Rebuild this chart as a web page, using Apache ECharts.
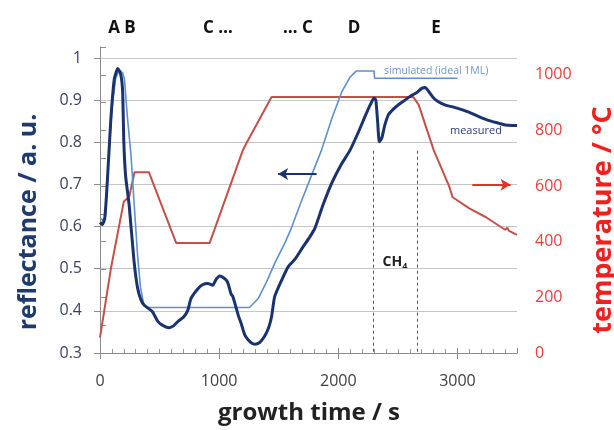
<!DOCTYPE html>
<html>
<head>
<meta charset="utf-8">
<script src="https://cdn.jsdelivr.net/npm/echarts@6/dist/echarts.min.js"></script>
<style>
    html, body { margin: 0; padding: 0; background: #fff; }
    #chart { width: 614px; height: 430px; }
</style>
</head>
<body>
<div id="chart"></div>
<script>
// measured reflectance (left axis)
const measuredTime = [0, 20, 40, 60, 90, 120, 150, 175, 190, 200, 215, 245, 285, 315, 345, 370, 440, 485, 530, 580,
    620, 655, 700, 735, 765, 820, 860, 905, 945, 975, 1005, 1040, 1070, 1100, 1115, 1160, 1185, 1215, 1245, 1275,
    1300, 1340, 1380, 1415, 1440, 1466, 1520, 1580, 1635, 1700, 1760, 1805, 1870, 1945, 2020, 2100, 2170, 2230, 2270, 2300,
    2315, 2330, 2345, 2365, 2390, 2420, 2460, 2505, 2560, 2620, 2660, 2700, 2730, 2760, 2800, 2840, 2900, 2960, 3010, 3090,
    3180, 3260, 3350, 3400, 3460, 3500]
const measuredRefl = [0.61, 0.605, 0.62, 0.70, 0.85, 0.95, 0.975, 0.96, 0.92, 0.80, 0.72, 0.65, 0.52, 0.455, 0.425, 0.414, 0.398, 0.375, 0.365, 0.36,
    0.365, 0.375, 0.385, 0.40, 0.43, 0.452, 0.462, 0.465, 0.461, 0.475, 0.483, 0.478, 0.469, 0.44, 0.434, 0.39, 0.37, 0.343, 0.331, 0.323,
    0.321, 0.325, 0.339, 0.36, 0.386, 0.434, 0.47, 0.505, 0.522, 0.55, 0.575, 0.597, 0.65, 0.703, 0.745, 0.782, 0.825, 0.865, 0.89, 0.905,
    0.90, 0.85, 0.801, 0.81, 0.84, 0.865, 0.878, 0.889, 0.90, 0.912, 0.918, 0.928, 0.93, 0.92, 0.905, 0.896, 0.888, 0.884, 0.88, 0.872,
    0.861, 0.852, 0.845, 0.841, 0.84, 0.84]

// simulated (ideal 1ML) reflectance (left axis)
const simTime = [0, 25, 45, 70, 100, 130, 160, 190, 205, 230, 260, 290, 315, 340, 370, 400, 1255, 1330, 1400, 1470,
    1550, 1600, 1690, 1750, 1860, 1950, 2030, 2100, 2150, 2300, 2305, 3000]
const simRefl = [0.62, 0.615, 0.625, 0.75, 0.88, 0.95, 0.972, 0.965, 0.95, 0.86, 0.77, 0.64, 0.533, 0.455, 0.412, 0.408, 0.408, 0.43, 0.47, 0.515,
    0.56, 0.592, 0.66, 0.703, 0.782, 0.86, 0.92, 0.955, 0.969, 0.969, 0.952, 0.952]

// temperature (right axis)
const tempTime = [0, 90, 200, 245, 290, 410, 640, 920, 1200, 1230, 1440, 2630, 2675, 2800, 2930, 2960, 3100, 3240, 3400, 3420, 3430, 3500]
const tempC = [55, 300, 545, 562, 650, 650, 395, 395, 730, 755, 920, 920, 892, 730, 600, 560, 520, 488, 443, 450, 440, 425]

const xMajorTicks = [0, 1000, 2000, 3000]

// annotations (data coordinates on the left axis)
const ch4Lines = [2295, 2660]
const ch4Top = 0.78
const blueArrow = [[1818, 0.725], [1495, 0.725]]
const redArrow = [[3125, 0.699], [3446, 0.699]]

const phaseLabels = ['A B', 'C …', '… C', 'D', 'E']
const phaseX = [122, 218, 298, 354, 436]

const navy = '#1a3370'
const lightBlue = '#5e8fd0'
const red = '#c4504a'
const font = '"Open Sans"'

const chart = echarts.init(document.getElementById('chart'))

const zip = (a, b) => a.map((v, i) => [v, b[i]])
const axisGray = '#8c8c8c'

const option = {
    animation: false,
    grid: [
        { left: 100, right: 97, top: 58, bottom: 77 },
        { left: 100, right: 97, top: 47, bottom: 77 }
    ],
    xAxis: [
        {
            gridIndex: 0,
            type: 'value',
            min: 0,
            max: 3500,
            interval: 1000,
            axisLine: { show: true, lineStyle: { color: axisGray } },
            axisTick: { show: true, inside: true, length: 5, lineStyle: { color: axisGray } },
            minorTick: { show: true, splitNumber: 10, length: 4, lineStyle: { color: '#9a9a9a' } },
            splitLine: { show: false },
            axisLabel: {
                formatter: v => (v % 1000 === 0 ? String(v) : ''),
                color: '#404040', fontSize: 16, fontFamily: font, margin: 20
            }
        },
        {
            // same scale in the temperature grid; only draws the outward major ticks
            gridIndex: 1,
            type: 'value',
            min: 0,
            max: 3500,
            interval: 1000,
            axisLine: { show: false },
            axisTick: { show: true, length: 6, customValues: xMajorTicks, lineStyle: { color: axisGray } },
            axisLabel: { show: false },
            splitLine: { show: false }
        }
    ],
    yAxis: [
        {
            gridIndex: 0,
            type: 'value',
            position: 'left',
            min: 0.3,
            max: 1,
            interval: 0.1,
            axisLine: { show: true, lineStyle: { color: axisGray } },
            axisTick: { show: true, length: 6, lineStyle: { color: axisGray } },
            splitLine: { show: true, lineStyle: { color: '#c6c6c6' } },
            axisLabel: { color: '#3c4262', fontSize: 16, fontFamily: font, margin: 18 }
        },
        {
            gridIndex: 1,
            type: 'value',
            position: 'right',
            min: 0,
            max: 1100,
            interval: 100,
            axisLine: { show: true, lineStyle: { color: axisGray } },
            axisTick: { show: true, length: 6, lineStyle: { color: axisGray } },
            splitLine: { show: false },
            axisLabel: {
                formatter: v => (v % 200 === 0 && v <= 1000 ? String(v) : ''),
                color: '#e8403c', fontSize: 16, fontFamily: font, margin: 18
            }
        }
    ],
    series: [
        {
            name: 'temperature',
            type: 'line',
            xAxisIndex: 1,
            yAxisIndex: 1,
            data: zip(tempTime, tempC),
            showSymbol: false,
            lineStyle: { color: red, width: 2 },
            z: 2
        },
        {
            name: 'simulated',
            type: 'line',
            xAxisIndex: 0,
            yAxisIndex: 0,
            data: zip(simTime, simRefl),
            showSymbol: false,
            lineStyle: { color: lightBlue, width: 1.6 },
            z: 3
        },
        {
            name: 'measured',
            type: 'line',
            xAxisIndex: 0,
            yAxisIndex: 0,
            data: zip(measuredTime, measuredRefl),
            showSymbol: false,
            smooth: 0.2,
            lineStyle: { color: navy, width: 3 },
            z: 4,
            markLine: {
                silent: true,
                symbol: ['none', 'none'],
                label: { show: false },
                data: [
                    ...ch4Lines.map(t => [
                        { coord: [t, ch4Top], lineStyle: { type: [3, 3], color: '#555', width: 1 } },
                        { coord: [t, 0.3] }
                    ]),
                    [
                        { coord: blueArrow[0], symbol: 'none', lineStyle: { color: navy, width: 2, type: 'solid' } },
                        { coord: blueArrow[1], symbol: 'arrow', symbolSize: [9, 10] }
                    ],
                    [
                        { coord: redArrow[0], symbol: 'none', lineStyle: { color: '#e8302a', width: 2, type: 'solid' } },
                        { coord: redArrow[1], symbol: 'arrow', symbolSize: [9, 10] }
                    ]
                ]
            }
        }
    ],
    graphic: [
        ...phaseLabels.map((s, i) => ({
            type: 'text', x: phaseX[i], y: 28,
            style: { text: s, fontSize: 17, fontWeight: 'bold', fontFamily: font, fill: '#111', align: 'center', verticalAlign: 'middle' }
        })),
        {
            type: 'text', x: 29, y: 222, rotation: Math.PI / 2,
            style: { text: 'reflectance / a. u.', fontSize: 25, fontWeight: 'bold', fontFamily: font, fill: '#1f3a6e', align: 'center', verticalAlign: 'middle' }
        },
        {
            type: 'text', x: 603, y: 220, rotation: Math.PI / 2,
            style: { text: 'temperature / °C', fontSize: 27, fontWeight: 'bold', fontFamily: font, fill: '#f0201c', align: 'center', verticalAlign: 'middle' }
        },
        {
            type: 'text', x: 309, y: 413,
            style: { text: 'growth time / s', fontSize: 24, fontWeight: 'bold', fontFamily: font, fill: '#222', align: 'center', verticalAlign: 'middle' }
        },
        {
            type: 'text', x: 384, y: 71,
            style: { text: 'simulated (ideal 1ML)', fontSize: 10.5, fontFamily: font, fill: '#6e94cc', align: 'left', verticalAlign: 'middle' }
        },
        {
            type: 'text', x: 450, y: 131,
            style: { text: 'measured', fontSize: 11, fontFamily: font, fill: '#2a3f7a', align: 'left', verticalAlign: 'middle' }
        },
        {
            type: 'text', x: 395, y: 262,
            style: {
                text: 'CH{s|4}', fontSize: 14, fontWeight: 'bold', fontFamily: font, fill: '#222',
                align: 'center', verticalAlign: 'middle',
                rich: { s: { fontSize: 9, fontWeight: 'bold', fontFamily: font, fill: '#222', padding: [9, 0, 0, 0] } }
            }
        }
    ]
}

chart.setOption(option)
</script>
</body>
</html>
